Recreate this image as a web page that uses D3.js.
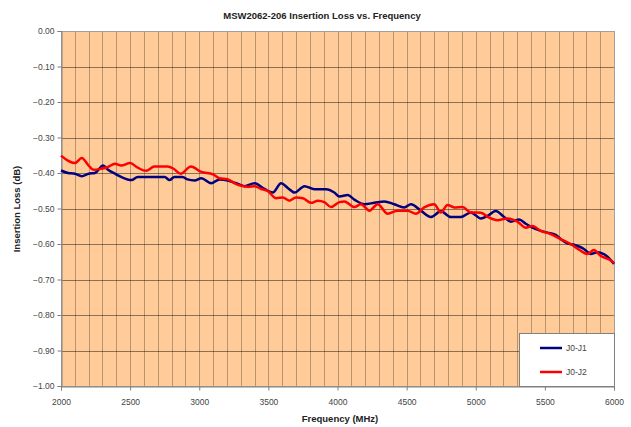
<!DOCTYPE html>
<html>
<head>
<meta charset="utf-8">
<script src="https://cdn.jsdelivr.net/npm/d3@7"></script>
<style>
  body { margin: 0; background: #fff; }
  svg { display: block; font-family: "Liberation Sans", Arial, sans-serif; }
</style>
</head>
<body>
<div id="chart"></div>
<script>
// Series data (frequency in MHz, loss in dB)
const j1Freq = [2000, 2050, 2100, 2150, 2200, 2245, 2305, 2340, 2390, 2435, 2510, 2555, 2675, 2750, 2785, 2820, 2880, 2915, 2967,
  3015, 3087, 3147, 3207, 3268, 3328, 3400, 3472, 3532, 3592, 3640, 3689, 3761, 3833, 3917, 3977,
  4014, 4074, 4122, 4194, 4267, 4339, 4411, 4483, 4531, 4603, 4675, 4748, 4820, 4892, 4964,
  5037, 5085, 5145, 5205, 5254, 5314, 5362, 5410, 5470, 5518, 5578, 5614, 5662, 5711, 5783, 5831, 5879, 5951, 6000];
const j1Loss = [-0.393, -0.400, -0.402, -0.409, -0.402, -0.400, -0.379, -0.391, -0.402, -0.411, -0.420, -0.411, -0.411, -0.411, -0.420, -0.411, -0.411, -0.418, -0.421,
  -0.415, -0.429, -0.418, -0.421, -0.429, -0.437, -0.429, -0.445, -0.455, -0.429, -0.442, -0.455, -0.437, -0.446, -0.446, -0.455,
  -0.466, -0.462, -0.475, -0.488, -0.484, -0.480, -0.488, -0.497, -0.488, -0.506, -0.524, -0.508, -0.524, -0.524, -0.511,
  -0.528, -0.521, -0.507, -0.524, -0.537, -0.531, -0.543, -0.554, -0.563, -0.568, -0.574, -0.586, -0.598, -0.602, -0.614, -0.628, -0.623, -0.635, -0.656];

const j2Freq = [2000, 2050, 2100, 2150, 2200, 2235, 2290, 2340, 2390, 2435, 2500, 2555, 2615, 2675, 2770, 2815, 2865, 2940,
  3015, 3100, 3147, 3207, 3256, 3304, 3352, 3400, 3448, 3496, 3556, 3604, 3652, 3700, 3749, 3809, 3857, 3905, 3953,
  4013, 4050, 4122, 4170, 4231, 4291, 4363, 4435, 4507, 4567, 4627, 4700, 4748, 4796, 4844, 4904, 4964,
  5037, 5097, 5157, 5229, 5301, 5362, 5410, 5470, 5542, 5614, 5686, 5759, 5807, 5855, 5903, 5975, 6000];
const j2Loss = [-0.351, -0.365, -0.372, -0.358, -0.379, -0.391, -0.388, -0.383, -0.374, -0.379, -0.372, -0.385, -0.394, -0.382, -0.382, -0.388, -0.402, -0.382,
  -0.397, -0.404, -0.415, -0.418, -0.429, -0.436, -0.439, -0.437, -0.445, -0.451, -0.471, -0.469, -0.478, -0.469, -0.471, -0.484, -0.478, -0.482, -0.496,
  -0.482, -0.480, -0.496, -0.488, -0.506, -0.488, -0.515, -0.506, -0.506, -0.515, -0.497, -0.488, -0.511, -0.490, -0.497, -0.496, -0.511,
  -0.512, -0.526, -0.533, -0.528, -0.537, -0.554, -0.549, -0.563, -0.572, -0.586, -0.600, -0.619, -0.628, -0.617, -0.633, -0.646, -0.654];

const seriesNames = ['J0-J1', 'J0-J2'];
const seriesColors = ['#000080', '#ff0000'];
const xTicks = [2000, 2500, 3000, 3500, 4000, 4500, 5000, 5500, 6000];
const yTicks = [0, -0.1, -0.2, -0.3, -0.4, -0.5, -0.6, -0.7, -0.8, -0.9, -1.0];

const W = 631, H = 427;
const plot = { left: 61, right: 614, top: 31, bottom: 386 };

const svg = d3.select('#chart').append('svg')
  .attr('width', W)
  .attr('height', H);

const x = d3.scaleLinear().domain([2000, 6000]).range([plot.left, plot.right]);
const y = d3.scaleLinear().domain([-1, 0]).range([plot.bottom, plot.top]);

// plot background
svg.append('rect')
  .attr('x', plot.left)
  .attr('y', plot.top)
  .attr('width', plot.right - plot.left)
  .attr('height', plot.bottom - plot.top)
  .attr('fill', '#ffcc99');

// vertical gridlines every 100 MHz
const gridX = d3.range(2100, 6000, 100);
svg.append('g')
  .selectAll('line')
  .data(gridX)
  .join('line')
  .attr('x1', d => Math.round(x(d)) + 0.5)
  .attr('x2', d => Math.round(x(d)) + 0.5)
  .attr('y1', plot.top)
  .attr('y2', plot.bottom)
  .attr('stroke', '#000')
  .attr('stroke-opacity', 0.28);

// horizontal gridlines
svg.append('g')
  .selectAll('line')
  .data(yTicks.slice(1, -1))
  .join('line')
  .attr('x1', plot.left)
  .attr('x2', plot.right)
  .attr('y1', d => Math.round(y(d)) + 0.5)
  .attr('y2', d => Math.round(y(d)) + 0.5)
  .attr('stroke', '#000')
  .attr('stroke-opacity', 0.45);

// plot border
svg.append('rect')
  .attr('x', plot.left + 0.5)
  .attr('y', plot.top + 0.5)
  .attr('width', plot.right - plot.left)
  .attr('height', plot.bottom - plot.top)
  .attr('fill', 'none')
  .attr('stroke', '#a0a0a0');

// axes
const yAxis = d3.axisLeft(y)
  .tickValues(yTicks)
  .tickSize(4)
  .tickFormat(d3.format('.2f'));
const gy = svg.append('g')
  .attr('transform', `translate(${plot.left + 0.5},0)`)
  .call(yAxis);
gy.select('.domain').attr('stroke', '#808080');
gy.selectAll('.tick line').attr('stroke', '#808080');
gy.selectAll('text')
  .attr('x', -7)
  .style('font-size', '8.5px')
  .attr('fill', '#444');

const xAxis = d3.axisBottom(x)
  .tickValues(xTicks)
  .tickSize(4)
  .tickFormat(d => d);
const gx = svg.append('g')
  .attr('transform', `translate(0,${plot.bottom + 0.5})`)
  .call(xAxis);
gx.select('.domain').attr('stroke', '#808080');
gx.selectAll('.tick line').attr('stroke', '#808080');
gx.selectAll('text')
  .attr('y', 12)
  .style('font-size', '8.5px')
  .attr('fill', '#444');

// data lines
const line = d3.line()
  .x(d => x(d[0]))
  .y(d => y(d[1]))
  .curve(d3.curveMonotoneX);

const series = [
  j1Freq.map((f, i) => [f, j1Loss[i]]),
  j2Freq.map((f, i) => [f, j2Loss[i]])
];

svg.append('g')
  .selectAll('path')
  .data(series)
  .join('path')
  .attr('d', line)
  .attr('fill', 'none')
  .attr('stroke', (d, i) => seriesColors[i])
  .attr('stroke-width', 2.5)
  .attr('stroke-linejoin', 'round');

// legend
const legend = svg.append('g');
legend.append('rect')
  .attr('x', 519.5)
  .attr('y', 333.5)
  .attr('width', plot.right - 519)
  .attr('height', plot.bottom - 333)
  .attr('fill', '#fff')
  .attr('stroke', '#808080');

seriesNames.forEach((name, i) => {
  const ly = 348 + i * 24;
  legend.append('line')
    .attr('x1', 540)
    .attr('x2', 562)
    .attr('y1', ly)
    .attr('y2', ly)
    .attr('stroke', seriesColors[i])
    .attr('stroke-width', 2.5);
  legend.append('text')
    .attr('x', 566)
    .attr('y', ly + 3)
    .style('font-size', '8.5px')
    .attr('fill', '#444')
    .text(name);
});

// titles
svg.append('text')
  .attr('x', 322)
  .attr('y', 19)
  .attr('text-anchor', 'middle')
  .style('font-size', '9.5px')
  .style('font-weight', 'bold')
  .attr('fill', '#222')
  .text('MSW2062-206 Insertion Loss vs. Frequency');

svg.append('text')
  .attr('x', 340)
  .attr('y', 422)
  .attr('text-anchor', 'middle')
  .style('font-size', '9.5px')
  .style('font-weight', 'bold')
  .attr('fill', '#222')
  .text('Frequency (MHz)');

svg.append('text')
  .attr('transform', `translate(20,209) rotate(-90)`)
  .attr('text-anchor', 'middle')
  .style('font-size', '9.5px')
  .style('font-weight', 'bold')
  .attr('fill', '#222')
  .text('Insertion Loss (dB)');
</script>
</body>
</html>
